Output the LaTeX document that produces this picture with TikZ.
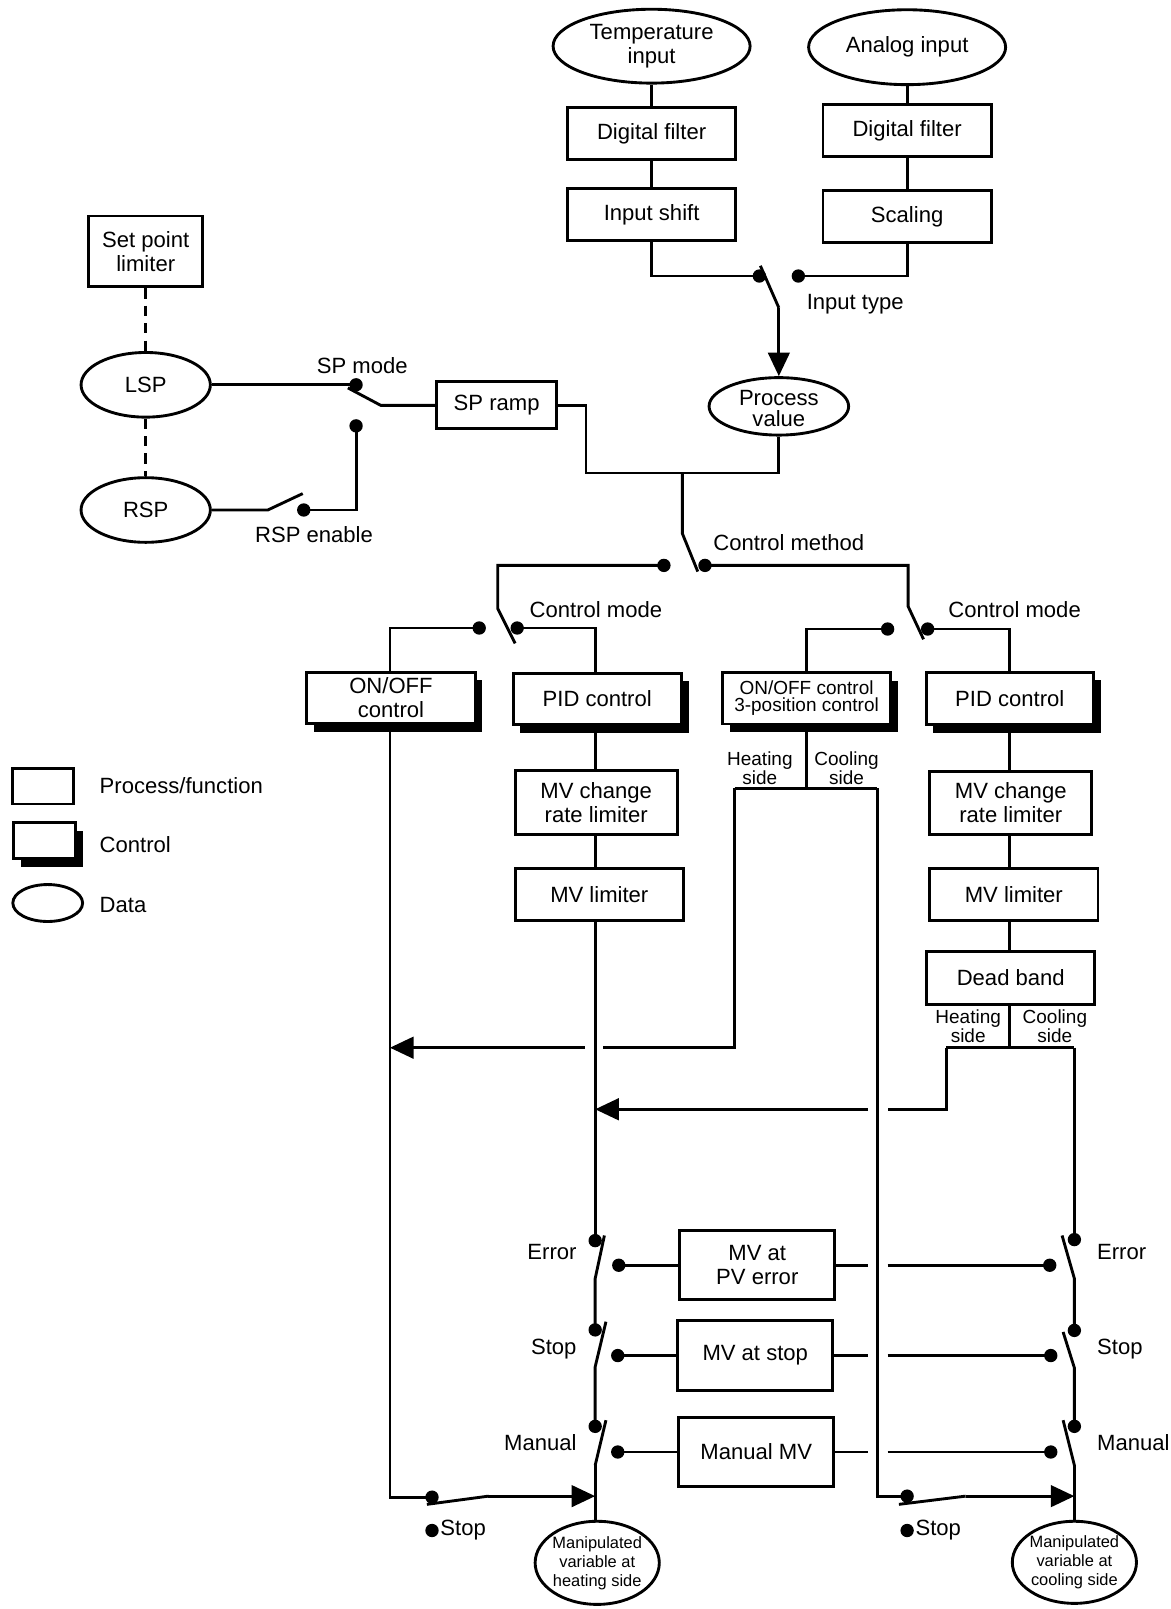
\documentclass[tikz,border=0pt]{standalone}
\usepackage{fontspec}
\setmainfont{Liberation Sans}
\usetikzlibrary{shapes.geometric,arrows.meta,shadows}
\newcommand{\fmain}{\fontsize{21.5}{23.5}\selectfont}
\newcommand{\fmid}{\fontsize{18.5}{16.5}\selectfont}
\newcommand{\fsml}{\fontsize{16}{18.5}\selectfont}
\begin{document}
\begin{tikzpicture}[x=1pt,y=-1pt,
  ln/.style={line width=2.8pt, line join=miter},
  pbox/.style={draw, line width=2.8pt, fill=white, rectangle, inner sep=0pt, align=center, font=\fmain},
  cbox/.style={pbox, general shadow={fill=black, draw=none, shadow xshift=7pt, shadow yshift=-8pt}},
  dat/.style={draw, ellipse, line width=2.8pt, fill=white, inner sep=0pt},
  dtxt/.style={inner sep=0pt, align=center, font=\fmain},
  lbl/.style={inner sep=0pt, font=\fmain},
  slbl/.style={inner sep=0pt, align=center, font=\fmid},
  dotn/.style={circle, fill=black, inner sep=0pt, minimum size=13pt},
  tip/.style={-{Triangle[length=23pt,width=21pt]}},
  dsh/.style={line width=2.8pt, dash pattern=on 10pt off 7pt}
]
\useasboundingbox (0,0) rectangle (1141,1568);
\fill[white] (0,0) rectangle (1141,1568);

% column coordinates
\coordinate (ox) at (380,0);
\coordinate (hx) at (580,0);
\coordinate (cx) at (984,0);
\coordinate (kx) at (1047,0);

% ---------------- top: inputs ----------------
\node[dat, minimum width=192pt, minimum height=72pt] (tin) at (635,45) {};
\node[dtxt] (tint) at (tin) {Temperature\\input};
\node[dat, minimum width=192pt, minimum height=73pt] (ain) at (884,46) {};
\node[dtxt] (aint) at (ain) {Analog input};
\node[pbox, minimum width=164pt, minimum height=51pt] (df1) at (635,130) {Digital filter};
\node[pbox, minimum width=164pt, minimum height=51pt] (df2) at (884,127) {Digital filter};
\node[pbox, minimum width=164pt, minimum height=51pt] (ish) at (635,209) {Input shift};
\node[pbox, minimum width=164pt, minimum height=51pt] (scl) at (884,211) {Scaling};
\draw[ln] (tin.south) -- (df1.north);
\draw[ln] (df1.south) -- (ish.north);
\draw[ln] (ain.south) -- (df2.north);
\draw[ln] (df2.south) -- (scl.north);

\node[dat, minimum width=136pt, minimum height=56pt] (pv) at (759,396) {};
\node[dtxt, font=\fontsize{21.5}{21}\selectfont] (pvt) at (759,398) {Process\\value};

\node[dotn] (itd1) at (740,269) {};
\node[dotn] (itd2) at (778,269) {};
\coordinate (itb1) at (741,259);
\coordinate (itb2) at (759,300);
\draw[ln] (ish.south) |- (itd1.center);
\draw[ln] (scl.south) |- (itd2.center);
\draw[ln] (itb1) -- (itb2);
\draw[ln, tip] (itb2) -- (pv.north);
\node[lbl, anchor=west] (lit) at (786,296) {Input type};

% ---------------- set point ----------------
\node[pbox, minimum width=111pt, minimum height=69pt] (spl) at (142,245) {Set point\\limiter};
\node[dat, minimum width=126pt, minimum height=63pt] (lsp) at (142,375) {};
\node[dtxt] (lspt) at (lsp) {LSP};
\node[dat, minimum width=126pt, minimum height=63pt] (rsp) at (142,497) {};
\node[dtxt] (rspt) at (rsp) {RSP};
\draw[dsh] (spl.south) -- (lsp.north);
\draw[dsh] (lsp.south) -- (rsp.north);

\node[pbox, minimum width=117pt, minimum height=46pt] (spr) at (484,395) {SP ramp};
\node[dotn] (spd1) at (347,375) {};
\node[dotn] (spd2) at (347,415) {};
\coordinate (spb1) at (339,378);
\coordinate (spb2) at (371,395);
\draw[ln] (lsp.east) -- (spd1.center);
\draw[ln] (spb1) -- (spb2) -- (spr.west);
\node[lbl] (lspm) at (353,356) {SP mode};

\node[dotn] (rsd) at (296,497) {};
\coordinate (rsb1) at (261,497);
\coordinate (rsb2) at (295,481);
\draw[ln] (rsp.east) -- (rsb1) -- (rsb2);
\draw[ln] (spd2.center) |- (rsd.center);
\node[lbl] (lrse) at (306,521) {RSP enable};

% ---------------- control method ----------------
\coordinate (j1) at (571,461);
\coordinate (j2) at (665,461);
\draw[ln] (spr.east) -| (j1) -| (pv.south);
\coordinate (cmp) at (665,520);
\coordinate (cmb) at (680,557);
\draw[ln] (j2) -- (cmp) -- (cmb);
\node[dotn] (cmd1) at (647,551) {};
\node[dotn] (cmd2) at (687,551) {};
\node[lbl, anchor=west] (lcm) at (695,529) {Control method};
\coordinate (cmL) at (485,551);
\coordinate (cmLp) at (485,593);
\coordinate (cmLb) at (502,627);
\draw[ln] (cmd1.center) -- (cmL) -- (cmLp) -- (cmLb);
\coordinate (cmR) at (885,551);
\coordinate (cmRp) at (885,591);
\coordinate (cmRb) at (900,623);
\draw[ln] (cmd2.center) -- (cmR) -- (cmRp) -- (cmRb);

% ---------------- control mode (left) ----------------
\node[dotn] (mld1) at (467,612) {};
\node[dotn] (mld2) at (504,612) {};
\node[lbl, anchor=west] (lcml) at (516,594) {Control mode};
\node[cbox, minimum width=164pt, minimum height=50pt] (onoff) at (381,680) {ON/OFF\\control};
\node[cbox, minimum width=164pt, minimum height=50pt] (pidL) at (582,681) {PID control};
\draw[ln] (mld1.center) -| (onoff.north -| ox);
\draw[ln] (mld2.center) -| (pidL.north -| hx);

% ---------------- control mode (right) ----------------
\node[dotn] (mrd1) at (865,613) {};
\node[dotn] (mrd2) at (904,613) {};
\node[lbl, anchor=west] (lcmr) at (924,594) {Control mode};
\node[cbox, minimum width=164pt, minimum height=50pt, font=\fmid] (tri) at (786,680.5) {ON/OFF control\\3-position control};
\node[cbox, minimum width=163pt, minimum height=51pt] (pidR) at (984,680.5) {PID control};
\draw[ln] (mrd1.center) -| (tri.north);
\draw[ln] (mrd2.center) -| (pidR.north -| cx);

% ---------------- heating chain (left PID) ----------------
\node[pbox, minimum width=158pt, minimum height=62pt] (mvcL) at (581,782) {MV change\\rate limiter};
\node[pbox, minimum width=164pt, minimum height=51pt] (mvlL) at (584,871.5) {MV limiter};
\draw[ln] (pidL.south -| hx) -- (mvcL.north -| hx);
\draw[ln] (mvcL.south -| hx) -- (mvlL.north -| hx);

% ---------------- right PID chain ----------------
\node[pbox, minimum width=158pt, minimum height=62pt] (mvcR) at (985,782.5) {MV change\\rate limiter};
\node[pbox, minimum width=164pt, minimum height=51pt] (mvlR) at (988,871.5) {MV limiter};
\node[pbox, minimum width=164pt, minimum height=51pt] (db) at (985,953) {Dead band};
\draw[ln] (pidR.south -| cx) -- (mvcR.north -| cx);
\draw[ln] (mvcR.south -| cx) -- (mvlR.north -| cx);
\draw[ln] (mvlR.south -| cx) -- (db.north -| cx);

\coordinate (dbj) at (984,1021);
\coordinate (dbh) at (922,1021);
\coordinate (dbc) at (1047,1021);
\draw[ln] (db.south -| cx) -- (dbj);
\draw[ln] (dbh) -- (dbc);
\node[slbl] (ldbh) at (943.5,1000) {Heating\\side};
\node[slbl] (ldbc) at (1028,1000) {Cooling\\side};
\coordinate (dbh2) at (922,1081);
\coordinate (g1a) at (865,1081);
\coordinate (g1b) at (846,1081);
\coordinate (ahH) at (580,1081);
\draw[ln] (dbh) -- (dbh2) -- (g1a);
\draw[ln, tip] (g1b) -- (ahH);

% ---------------- 3-position outputs ----------------
\coordinate (trj) at (786,768);
\coordinate (trh) at (716,768);
\coordinate (trc) at (855,768);
\draw[ln] (tri.south) -- (trj);
\draw[ln] (trh) -- (trc);
\node[slbl] (ltrh) at (740.5,748.5) {Heating\\side};
\node[slbl] (ltrc) at (825,748.5) {Cooling\\side};
\coordinate (trh2) at (716,1021);
\coordinate (g2a) at (588,1021);
\coordinate (g2b) at (570,1021);
\coordinate (ahO) at (380,1021);
\draw[ln] (trh) -- (trh2) -- (g2a);
\draw[ln, tip] (g2b) -- (ahO);

% ---------------- stop switches at bottom ----------------
\node[dotn] (sdL) at (421,1459) {};
\coordinate (sbL1) at (416,1466);
\coordinate (sbL2) at (476,1458);
\coordinate (ahS) at (580,1458);
\draw[ln] (onoff.south -| ox) |- (sdL.center);
\draw[ln] (sbL1) -- (sbL2);
\draw[ln, tip] (sbL2) -- (ahS);
\node[dotn] (sdL2) at (421,1491.5) {};
\node[lbl, anchor=west] (lstL) at (429,1491.5) {Stop};

\node[dotn] (sdR) at (884,1458) {};
\coordinate (sbR1) at (876,1466);
\coordinate (sbR2) at (941,1458);
\coordinate (ahK) at (1047,1458);
\draw[ln] (trc) |- (sdR.center);
\draw[ln] (sbR1) -- (sbR2);
\draw[ln, tip] (sbR2) -- (ahK);
\node[dotn] (sdR2) at (884,1491.5) {};
\node[lbl, anchor=west] (lstR) at (892,1491.5) {Stop};

% ---------------- MV boxes ----------------
\node[pbox, minimum width=151pt, minimum height=67pt] (err) at (738,1233) {MV at\\PV error};
\node[pbox, minimum width=151pt, minimum height=68pt] (mvs) at (736,1321) {MV at stop};
\node[pbox, minimum width=151pt, minimum height=67pt] (man) at (737,1415) {Manual MV};

% heating column switches
\node[dotn] (eT) at (580,1209) {};
\node[dotn] (eC) at (603,1233) {};
\node[dotn] (sT) at (580,1296) {};
\node[dotn] (sC) at (602,1321) {};
\node[dotn] (mT) at (580,1390) {};
\node[dotn] (mC) at (602,1415) {};
\coordinate (eb1) at (589,1204);
\coordinate (eb2) at (580,1246);
\coordinate (sb1) at (590.5,1288);
\coordinate (sb2) at (580,1332);
\coordinate (mb1) at (590.5,1384);
\coordinate (mb2) at (580,1428);
\draw[ln] (mvlL.south -| hx) -- (eT.center);
\draw[ln] (eb1) -- (eb2) -- (sT.center);
\draw[ln] (sb1) -- (sb2) -- (mT.center);
\draw[ln] (mb1) -- (mb2);
\node[dat, minimum width=121pt, minimum height=81pt] (mvh) at (582,1523) {};
\node[dtxt, font=\fsml] (mvht) at (mvh) {Manipulated\\variable at\\heating side};
\draw[ln] (mb2) -- (mvh.north -| hx);
\node[lbl, anchor=east] (leL) at (562,1220.5) {Error};
\node[lbl, anchor=east] (lsL) at (562,1314.5) {Stop};
\node[lbl, anchor=east] (lmL) at (562,1405.5) {Manual};

% cooling column switches
\node[dotn] (eTR) at (1047,1208) {};
\node[dotn] (eCR) at (1023,1233) {};
\node[dotn] (sTR) at (1047,1296.5) {};
\node[dotn] (sCR) at (1024,1321) {};
\node[dotn] (mTR) at (1047,1390) {};
\node[dotn] (mCR) at (1024,1415) {};
\coordinate (ebR1) at (1035,1204);
\coordinate (ebR2) at (1047,1246);
\coordinate (sbR1s) at (1036,1298);
\coordinate (sbR2s) at (1047,1333);
\coordinate (mbR1) at (1036,1384);
\coordinate (mbR2) at (1047,1428);
\draw[ln] (dbc) -- (eTR.center);
\draw[ln] (ebR1) -- (ebR2) -- (sTR.center);
\draw[ln] (sbR1s) -- (sbR2s) -- (mTR.center);
\draw[ln] (mbR1) -- (mbR2);
\node[dat, minimum width=121pt, minimum height=80pt] (mvco) at (1047,1522.5) {};
\node[dtxt, font=\fsml] (mvcot) at (mvco) {Manipulated\\variable at\\cooling side};
\draw[ln] (mbR2) -- (mvco.north);
\node[lbl, anchor=west] (leR) at (1069,1220.5) {Error};
\node[lbl, anchor=west] (lsR) at (1069,1314.5) {Stop};
\node[lbl, anchor=west] (lmR) at (1069,1405.5) {Manual};

% connections contacts <-> boxes
\coordinate (ge1) at (846,1233);
\coordinate (ge2) at (865,1233);
\coordinate (gs1) at (846,1321);
\coordinate (gs2) at (865,1321);
\coordinate (gm1) at (846,1415);
\coordinate (gm2) at (865,1415);
\draw[ln] (eC.center) -- (err.west);
\draw[ln] (err.east) -- (ge1);
\draw[ln] (ge2) -- (eCR.center);
\draw[ln] (sC.center) -- (mvs.west);
\draw[ln] (mvs.east) -- (gs1);
\draw[ln] (gs2) -- (sCR.center);
\draw[ln] (mC.center) -- (man.west);
\draw[ln] (man.east) -- (gm1);
\draw[ln] (gm2) -- (mCR.center);

% ---------------- legend ----------------
\node[pbox, minimum width=60pt, minimum height=35pt] (lgp) at (42,766) {};
\node[cbox, minimum width=61pt, minimum height=35pt] (lgc) at (43.5,819) {};
\node[dat, minimum width=68pt, minimum height=36pt] (lgd) at (46.5,880) {};
\node[lbl, anchor=west] (lgpt) at (97,766) {Process/function};
\node[lbl, anchor=west] (lgct) at (97,823) {Control};
\node[lbl, anchor=west] (lgdt) at (97,882) {Data};
\end{tikzpicture}
\end{document}
